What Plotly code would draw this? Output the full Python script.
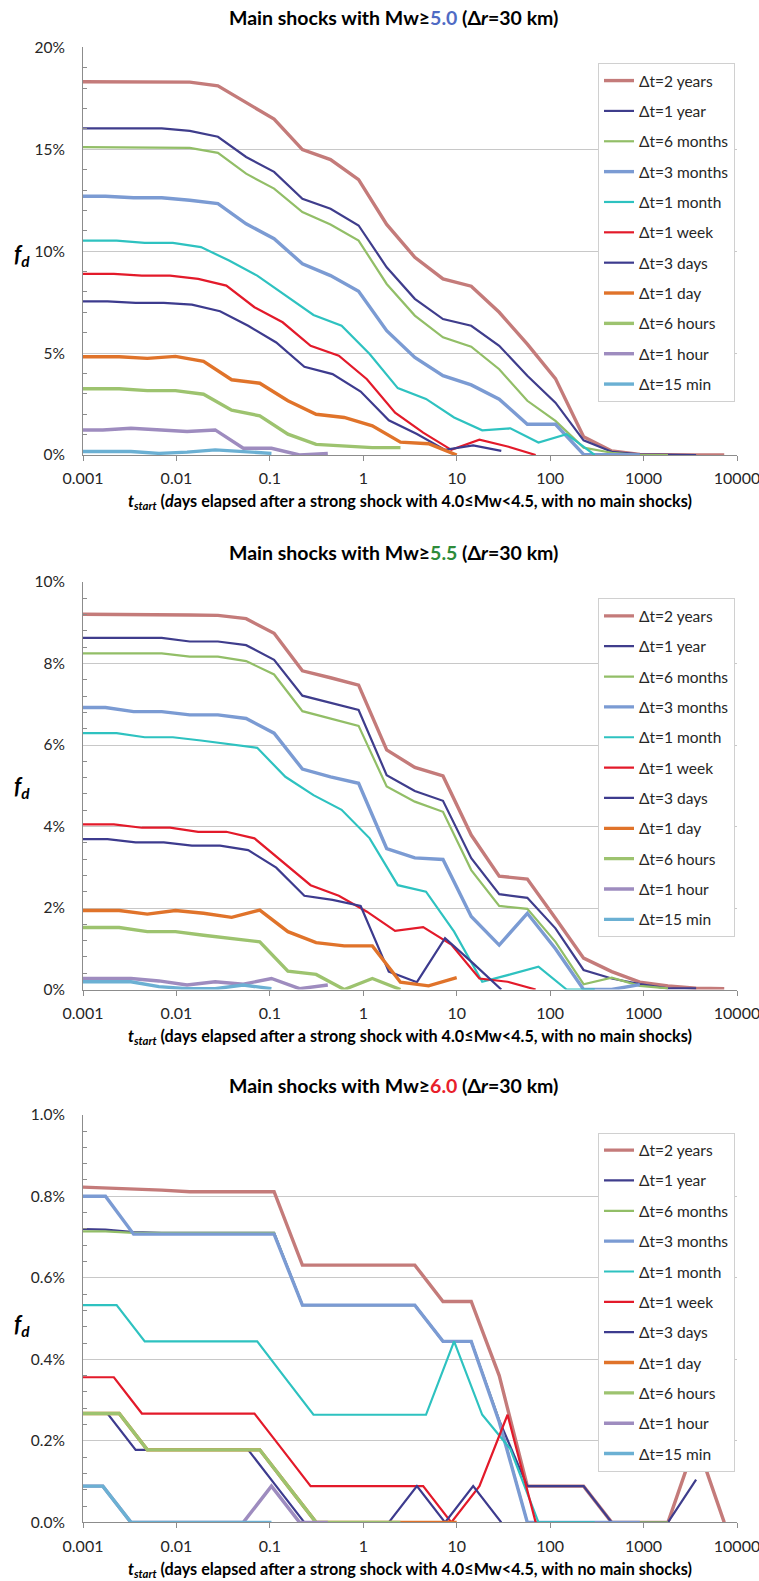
import plotly.graph_objects as go

# ---------------- data ----------------
NAMES = ["Δt=2 years", "Δt=1 year", "Δt=6 months", "Δt=3 months", "Δt=1 month",
         "Δt=1 week", "Δt=3 days", "Δt=1 day", "Δt=6 hours", "Δt=1 hour", "Δt=15 min"]

# t_start grids (days) for each Δt window
X_2Y = [0.00087, 0.00174, 0.00348, 0.00696, 0.0139, 0.0278, 0.0557, 0.111, 0.223, 0.446, 0.891,
        1.78, 3.56, 7.13, 14.3, 28.5, 57.0, 114.0, 228.0, 456.0, 912.5, 1825.0, 3650.0, 7300.0]
X_1Y = [0.00087, 0.00174, 0.00348, 0.00696, 0.0139, 0.0278, 0.0557, 0.111, 0.223, 0.446, 0.891,
        1.78, 3.56, 7.13, 14.3, 28.5, 57.0, 114.0, 228.0, 456.0, 912.5, 1825.0, 3650.0]
X_6M = [0.00087, 0.00174, 0.00348, 0.00696, 0.0139, 0.0278, 0.0557, 0.111, 0.223, 0.446, 0.891,
        1.78, 3.56, 7.13, 14.3, 28.5, 57.0, 114.0, 228.0, 456.0, 912.5, 1825.0]
X_3M = [0.00087, 0.00174, 0.00348, 0.00696, 0.0139, 0.0278, 0.0557, 0.111, 0.223, 0.446, 0.891,
        1.78, 3.56, 7.13, 14.3, 28.5, 57.0, 114.0, 228.0, 456.0, 912.5]
X_1MO = [0.00057, 0.00114, 0.00229, 0.00458, 0.00916, 0.0183, 0.0366, 0.0732, 0.1465, 0.293,
         0.586, 1.17, 2.34, 4.69, 9.375, 18.75, 37.5, 75.0, 150.0, 300.0]
X_1W = [0.000534, 0.00107, 0.00214, 0.00427, 0.00854, 0.0171, 0.0342, 0.0684, 0.137, 0.273,
        0.547, 1.094, 2.19, 4.375, 8.75, 17.5, 35.0, 70.0]
X_3D = [0.000916, 0.00183, 0.00366, 0.00732, 0.01465, 0.0293, 0.0586, 0.117, 0.234, 0.469,
        0.9375, 1.875, 3.75, 7.5, 15.0, 30.0]
X_1D = [0.00061, 0.00122, 0.00244, 0.00488, 0.00977, 0.0195, 0.039, 0.078, 0.156, 0.3125,
        0.625, 1.25, 2.5, 5.0, 10.0]
X_6H = [0.00061, 0.00122, 0.00244, 0.00488, 0.00977, 0.0195, 0.039, 0.078, 0.156, 0.3125,
        0.625, 1.25, 2.5]
X_1H = [0.00081, 0.00163, 0.00326, 0.0065, 0.013, 0.026, 0.052, 0.104, 0.208, 0.417]
X_15 = [0.00081, 0.00163, 0.00326, 0.0065, 0.013, 0.026, 0.052, 0.104]

X_ALL = [X_2Y, X_1Y, X_6M, X_3M, X_1MO, X_1W, X_3D, X_1D, X_6H, X_1H, X_15]

# f_d (%) -- Mw >= 5.0
P1_2Y = [18.31, 18.31, 18.31, 18.3, 18.29, 18.11, 17.28, 16.48, 14.98, 14.49, 13.51, 11.31, 9.70,
         8.64, 8.28, 7.0, 5.44, 3.75, 0.89, 0.2, 0.03, 0, 0, 0]
P1_1Y = [16.02, 16.02, 16.02, 16.02, 15.9, 15.61, 14.62, 13.89, 12.57, 12.08, 11.26, 9.21, 7.66,
         6.67, 6.34, 5.36, 3.89, 2.57, 0.72, 0.16, 0.03, 0, 0]
P1_6M = [15.1, 15.1, 15.1, 15.1, 15.07, 14.82, 13.8, 13.07, 11.92, 11.31, 10.52, 8.39, 6.84,
         5.77, 5.31, 4.21, 2.66, 1.67, 0.36, 0.11, 0, 0]
P1_3M = [12.69, 12.69, 12.62, 12.62, 12.5, 12.33, 11.34, 10.61, 9.38, 8.80, 8.03, 6.10, 4.79,
         3.89, 3.44, 2.74, 1.51, 1.51, 0.03, 0, 0]
P1_1MO = [10.52, 10.52, 10.52, 10.41, 10.41, 10.2, 9.54, 8.80, 7.82, 6.87, 6.34, 4.95, 3.28,
          2.75, 1.84, 1.21, 1.31, 0.61, 1.02, 0]
P1_1W = [8.89, 8.89, 8.89, 8.8, 8.8, 8.64, 8.31, 7.25, 6.51, 5.36, 4.87, 3.72, 2.08, 1.1,
         0.25, 0.75, 0.42, 0]
P1_3D = [7.54, 7.54, 7.46, 7.46, 7.38, 7.05, 6.34, 5.52, 4.33, 3.97, 3.11, 1.70, 1.03, 0.25,
         0.47, 0.2]
P1_1D = [4.82, 4.82, 4.82, 4.74, 4.84, 4.59, 3.69, 3.52, 2.66, 2.0, 1.84, 1.43, 0.63, 0.55, 0]
P1_6H = [3.25, 3.25, 3.25, 3.16, 3.16, 2.98, 2.2, 1.92, 1.02, 0.52, 0.44, 0.36, 0.36]
P1_1H = [1.23, 1.23, 1.31, 1.23, 1.15, 1.23, 0.33, 0.33, 0.0, 0.08]
P1_15 = [0.17, 0.17, 0.17, 0.08, 0.14, 0.25, 0.17, 0.08]

# f_d (%) -- Mw >= 5.5
P2_2Y = [9.21, 9.21, 9.2, 9.19, 9.19, 9.18, 9.1, 8.74, 7.82, 7.65, 7.47, 5.88, 5.45, 5.24, 3.79,
         2.78, 2.71, 1.75, 0.77, 0.44, 0.18, 0.09, 0.03, 0.02]
P2_1Y = [8.63, 8.63, 8.63, 8.63, 8.54, 8.54, 8.45, 8.09, 7.21, 7.03, 6.86, 5.26, 4.87, 4.63,
         3.22, 2.34, 2.25, 1.50, 0.48, 0.27, 0.13, 0.03, 0.03]
P2_6M = [8.25, 8.25, 8.25, 8.25, 8.17, 8.17, 8.06, 7.73, 6.83, 6.65, 6.47, 4.98, 4.61, 4.36,
         2.93, 2.05, 1.98, 1.17, 0.13, 0.29, 0.09, 0.03]
P2_3M = [6.92, 6.92, 6.82, 6.82, 6.74, 6.74, 6.65, 6.29, 5.41, 5.22, 5.06, 3.46, 3.23, 3.19,
         1.79, 1.09, 1.87, 1.0, 0.0, 0.0, 0.12]
P2_1MO = [6.29, 6.29, 6.29, 6.19, 6.19, 6.11, 6.02, 5.93, 5.22, 4.77, 4.41, 3.71, 2.56, 2.40,
          1.42, 0.19, 0.37, 0.56, 0, 0]
P2_1W = [4.05, 4.05, 4.05, 3.97, 3.97, 3.87, 3.87, 3.71, 3.14, 2.56, 2.30, 1.91, 1.44, 1.53,
         1.1, 0.27, 0.19, 0]
P2_3D = [3.69, 3.69, 3.61, 3.61, 3.53, 3.53, 3.42, 2.99, 2.30, 2.20, 2.05, 0.44, 0.18, 1.26,
         0.64, 0]
P2_1D = [1.94, 1.94, 1.94, 1.85, 1.94, 1.87, 1.77, 1.95, 1.42, 1.15, 1.07, 1.07, 0.18, 0.09, 0.29]
P2_6H = [1.52, 1.52, 1.52, 1.42, 1.42, 1.33, 1.25, 1.17, 0.45, 0.37, 0.0, 0.27, 0.0]
P2_1H = [0.27, 0.27, 0.27, 0.21, 0.11, 0.19, 0.13, 0.27, 0.02, 0.11]
P2_15 = [0.19, 0.19, 0.19, 0.07, 0.02, 0.02, 0.11, 0.02]

# f_d (%) -- Mw >= 6.0
P3_2Y = [0.823, 0.821, 0.818, 0.815, 0.811, 0.811, 0.811, 0.811, 0.631, 0.631, 0.631, 0.631,
         0.631, 0.542, 0.542, 0.36, 0.089, 0.089, 0.089, 0, 0, 0, 0.2, 0]
P3_1Y = [0.72, 0.718, 0.712, 0.71, 0.71, 0.71, 0.71, 0.71, 0.533, 0.533, 0.533, 0.533, 0.533,
         0.444, 0.444, 0.25, 0.089, 0.089, 0.089, 0, 0, 0, 0.105]
P3_6M = [0.714, 0.714, 0.71, 0.71, 0.71, 0.71, 0.71, 0.71, 0.533, 0.533, 0.533, 0.533, 0.533,
         0.444, 0.444, 0.25, 0, 0, 0, 0, 0, 0]
P3_3M = [0.8, 0.8, 0.707, 0.707, 0.707, 0.707, 0.707, 0.707, 0.533, 0.533, 0.533, 0.533, 0.533,
         0.444, 0.444, 0.247, 0, 0, 0, 0, 0]
P3_1MO = [0.533, 0.533, 0.533, 0.444, 0.444, 0.444, 0.444, 0.444, 0.354, 0.264, 0.264, 0.264,
          0.264, 0.264, 0.444, 0.264, 0.18, 0, 0, 0]
P3_1W = [0.356, 0.356, 0.356, 0.267, 0.267, 0.267, 0.267, 0.267, 0.178, 0.089, 0.089, 0.089,
         0.089, 0.089, 0, 0.089, 0.264, 0]
P3_3D = [0.267, 0.267, 0.178, 0.178, 0.178, 0.178, 0.178, 0.089, 0, 0, 0, 0, 0.089, 0, 0.089, 0]
P3_1D = [0.267, 0.267, 0.267, 0.178, 0.178, 0.178, 0.178, 0.178, 0.089, 0, 0, 0, 0, 0, 0]
P3_6H = [0.267, 0.267, 0.267, 0.178, 0.178, 0.178, 0.178, 0.178, 0.089, 0, 0, 0, 0]
P3_1H = [0.089, 0.089, 0, 0, 0, 0, 0, 0.089, 0, 0]
P3_15 = [0.089, 0.089, 0, 0, 0, 0, 0, 0]

PANELS = [
    [P1_2Y, P1_1Y, P1_6M, P1_3M, P1_1MO, P1_1W, P1_3D, P1_1D, P1_6H, P1_1H, P1_15],
    [P2_2Y, P2_1Y, P2_6M, P2_3M, P2_1MO, P2_1W, P2_3D, P2_1D, P2_6H, P2_1H, P2_15],
    [P3_2Y, P3_1Y, P3_6M, P3_3M, P3_1MO, P3_1W, P3_3D, P3_1D, P3_6H, P3_1H, P3_15],
]

X_TICKS = [0.001, 0.01, 0.1, 1, 10, 100, 1000, 10000]
X_TICKTEXT = ["0.001", "0.01", "0.1", "1", "10", "100", "1000", "10000"]

MAGS = ["5.0", "5.5", "6.0"]
MAG_COLORS = ["#4F6BC4", "#2E8B3A", "#E8202A"]

# ---------------- style ----------------
COLORS = ["#C47B7A", "#3F3D8C", "#92BE67", "#7B9BD3", "#2EC2C0", "#E31A2A",
          "#3D3B8E", "#E0732A", "#9DC36F", "#9E8CBF", "#6BB0D3"]
WIDTHS = [3.4, 2.2, 2.2, 3.4, 2.2, 2.2, 2.2, 3.4, 3.4, 3.4, 3.4]
FONT = "Lato, 'Open Sans', sans-serif"
W, H = 759, 1581

# pixel boxes of the three plot areas (left, right, top, bottom)
BOXES = [(83, 737, 47.3, 455.0), (83, 737, 582.0, 989.5), (83, 737, 1114.7, 1522.4)]
Y_MAX = [20, 10, 1.0]
Y_DTICK = [5, 2, 0.2]
Y_MINOR = [1, 0.4, 0.04]
Y_FMT = ["d", "d", ".1f"]
TITLE_Y = [17.5, 552.5, 1085.5]
XTITLE_Y = [501.7, 1036.0, 1569.0]
FD_Y = [255.0, 786.7, 1324.7]
LEG_TOP = [63.0, 598.3, 1132.5]

fig = go.Figure()
layout = dict(width=W, height=H, margin=dict(l=0, r=0, t=0, b=0, autoexpand=False),
              paper_bgcolor="white", plot_bgcolor="white",
              font=dict(family=FONT, color="#262626"), hovermode=False,
              annotations=[])

for p in range(3):
    sfx = "" if p == 0 else str(p + 1)
    leg = "legend" + sfx
    for i, name in enumerate(NAMES):
        fig.add_trace(go.Scatter(
            x=X_ALL[i], y=PANELS[p][i], mode="lines", name=name,
            line=dict(color=COLORS[i], width=WIDTHS[i]),
            xaxis="x" + sfx, yaxis="y" + sfx, legend=leg,
            legendgroup="g%d_%d" % (p, i), showlegend=True))
    l, r, t, b = BOXES[p]
    layout["xaxis" + sfx] = dict(
        type="log", range=[-3, 4], domain=[l / W, r / W], anchor="y" + sfx,
        tickvals=X_TICKS, ticktext=X_TICKTEXT, ticks="outside", ticklen=5,
        tickcolor="#8C8C8C", showline=True, linecolor="#8C8C8C", linewidth=1,
        showgrid=False, zeroline=False, ticklabelstandoff=4,
        ticklabeloverflow="allow", automargin=False,
        tickfont=dict(size=16, color="#262626", family=FONT))
    layout["yaxis" + sfx] = dict(
        range=[0, Y_MAX[p]], domain=[1 - b / H, 1 - t / H], anchor="x" + sfx,
        dtick=Y_DTICK[p], tick0=0, tickformat=Y_FMT[p], ticksuffix="%",
        ticks="", showline=True, linecolor="#8C8C8C", linewidth=1,
        showgrid=True, gridcolor="#C8C8C8", gridwidth=1, zeroline=False,
        ticklabelstandoff=14, automargin=False,
        minor=dict(dtick=Y_MINOR[p], tick0=0, ticks="inside", ticklen=4,
                   tickcolor="#8C8C8C", showgrid=False),
        tickfont=dict(size=15.5, color="#262626", family=FONT))
    layout[leg] = dict(
        x=598 / W, y=1 - LEG_TOP[p] / H, xanchor="left", yanchor="top",
        bgcolor="white", bordercolor="#D0D0D0", borderwidth=1,
        font=dict(size=15.5, color="#262626", family=FONT),
        traceorder="grouped", tracegroupgap=7.2, itemwidth=30)
    layout["annotations"].append(dict(
        xref="paper", yref="paper", x=393 / W, y=1 - TITLE_Y[p] / H,
        xanchor="center", yanchor="middle", showarrow=False,
        text="<b>Main shocks with Mw≥<span style='color:%s'>%s</span> (Δ<i>r</i>=30 km)</b>"
             % (MAG_COLORS[p], MAGS[p]),
        font=dict(size=19.5, color="black", family=FONT)))
    dword = "<i>d</i>ays" if p == 0 else "days"
    layout["annotations"].append(dict(
        xref="paper", yref="paper", x=409.5 / W, y=1 - XTITLE_Y[p] / H,
        xanchor="center", yanchor="middle", showarrow=False,
        text="<b><i>t</i><sub><i>start</i></sub> (%s elapsed after a strong shock with "
             "4.0≤Mw&lt;4.5, with no main shocks)</b>" % dword,
        font=dict(size=16.2, color="black", family=FONT)))
    layout["annotations"].append(dict(
        xref="paper", yref="paper", x=22 / W, y=1 - FD_Y[p] / H,
        xanchor="center", yanchor="middle", showarrow=False,
        text="<b><i>f</i><sub><i>d</i></sub></b>",
        font=dict(size=22, color="black", family=FONT)))

fig.update_layout(**layout)
fig.write_html(
    "out.html",
    config={"displayModeBar": False},
    post_script="document.body.style.margin='0px';document.body.style.padding='0px';"
                "document.body.style.overflow='hidden';")
